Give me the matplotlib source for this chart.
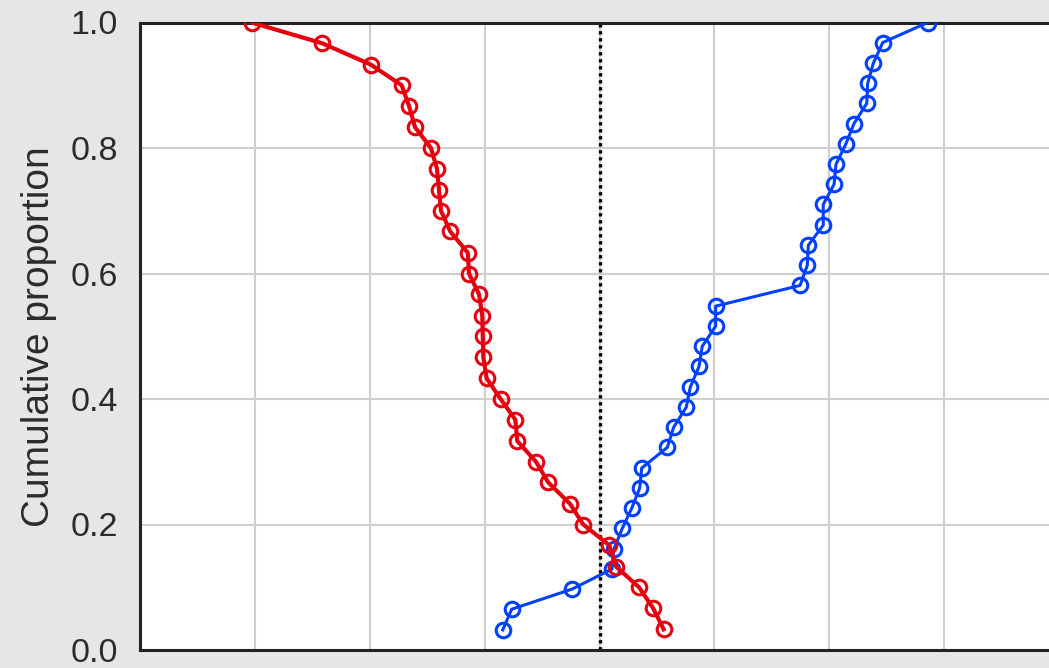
import matplotlib
matplotlib.use("Agg")
import matplotlib.pyplot as plt

# Cumulative proportions for the two groups (score on the x axis)
red_x = [4.559, 4.466, 4.344, 4.144, 4.085, 3.859, 3.743, 3.554, 3.447, 3.284,
         3.267, 3.139, 3.017, 2.988, 2.983, 2.979, 2.950, 2.863, 2.853, 2.700,
         2.619, 2.602, 2.584, 2.532, 2.393, 2.341, 2.277, 2.007, 1.583, 0.970]
red_y = [0.033, 0.067, 0.100, 0.133, 0.167, 0.200, 0.233, 0.267, 0.300, 0.333,
         0.367, 0.400, 0.433, 0.467, 0.500, 0.533, 0.567, 0.600, 0.633, 0.667,
         0.700, 0.733, 0.767, 0.800, 0.833, 0.867, 0.900, 0.933, 0.967, 1.000]

blue_x = [3.157, 3.235, 3.760, 4.109, 4.126, 4.199, 4.281, 4.350, 4.368, 4.591,
          4.646, 4.756, 4.791, 4.867, 4.895, 5.012, 5.012, 5.747, 5.810, 5.819,
          5.949, 5.949, 6.043, 6.060, 6.145, 6.217, 6.328, 6.336, 6.385, 6.467,
          6.859]
blue_y = [0.032, 0.065, 0.097, 0.129, 0.161, 0.194, 0.226, 0.258, 0.290, 0.323,
          0.355, 0.387, 0.419, 0.452, 0.484, 0.516, 0.548, 0.581, 0.613, 0.645,
          0.677, 0.710, 0.742, 0.774, 0.806, 0.839, 0.871, 0.903, 0.935, 0.968,
          1.000]

threshold = 4.0
x_ticks = [0, 1, 2, 3, 4, 5, 6, 7, 8]
y_ticks = [0.0, 0.2, 0.4, 0.6, 0.8, 1.0]
y_tick_labels = ["0.0", "0.2", "0.4", "0.6", "0.8", "1.0"]

plt.rcParams["font.family"] = ["Liberation Sans", "DejaVu Sans"]

W, H = 1049, 668
fig = plt.figure(figsize=(W / 100, H / 100), dpi=100, facecolor="#e5e6e8")
ax_left, ax_top, ax_bottom, unit = 140.3, 22.5, 650.0, 114.8
ax = fig.add_axes([ax_left / W, (H - ax_bottom) / H,
                   8 * unit / W, (ax_bottom - ax_top) / H])
ax.set_facecolor("white")

ax.set_xlim(0, 8)
ax.set_ylim(0, 1)
ax.set_xticks(x_ticks)
ax.set_yticks(y_ticks)
ax.set_yticklabels(y_tick_labels)
ax.grid(True, color="#cfcfcf", linewidth=1.5, zorder=0)
ax.set_axisbelow(True)

ax.tick_params(axis="x", length=0, labelbottom=False)
ax.tick_params(axis="y", length=0, pad=16, labelsize=24.5, labelcolor="#2b2b2b")

for side in ("left", "top", "bottom", "right"):
    ax.spines[side].set_color("#222222")
    ax.spines[side].set_linewidth(2.2)

ax.axvline(threshold, color="black", linestyle=(0, (1.0, 1.1)), linewidth=2.4, zorder=2)

ax.plot(blue_x, blue_y, color="#0040ff", linewidth=2.2, marker="o",
        markersize=10.5, markerfacecolor="none", markeredgewidth=2.2, zorder=3)
ax.plot(red_x, red_y, color="#e6000f", linewidth=3.0, marker="o",
        markersize=10.5, markerfacecolor="none", markeredgewidth=2.2, zorder=4)

ax.set_ylabel("Cumulative proportion", fontsize=28, color="#2b2b2b", labelpad=10)

fig.savefig("out.png", dpi=100, facecolor=fig.get_facecolor())
